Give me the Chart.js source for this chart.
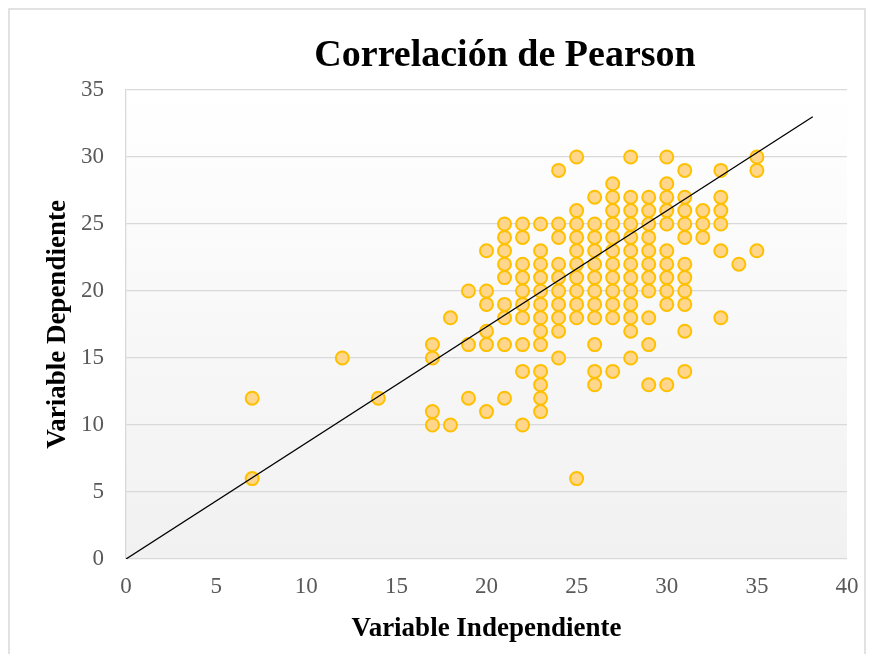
<!DOCTYPE html>
<html>
<head>
<meta charset="utf-8">
<script src="https://cdn.jsdelivr.net/npm/chart.js@4/dist/chart.umd.min.js"></script>
<style>
	html, body { margin: 0; padding: 0; background: #ffffff; }
	canvas { display: block; }
</style>
</head>
<body>
<canvas id="Pearson_Plot" width="869" height="654"></canvas>
<script>

// x value of each column of points, and the y values found in that column
const col_x = [7, 12, 14, 17, 18, 19, 20, 21, 22, 23, 24, 25, 26, 27, 28, 29, 30, 31, 32, 33, 34, 35];
const col_y = [
	[12, 6],
	[15],
	[12],
	[16, 15, 11, 10],
	[18, 10],
	[20, 16, 12],
	[23, 20, 19, 17, 16, 11],
	[25, 24, 23, 22, 21, 19, 18, 16, 12],
	[25, 24, 22, 21, 20, 19, 18, 16, 14, 10],
	[25, 23, 22, 21, 20, 19, 18, 17, 16, 14, 13, 12, 11],
	[29, 25, 24, 22, 21, 20, 19, 18, 17, 15],
	[30, 26, 25, 24, 23, 22, 21, 20, 19, 18, 6],
	[27, 25, 24, 23, 22, 21, 20, 19, 18, 16, 14, 13],
	[28, 27, 26, 25, 24, 23, 22, 21, 20, 19, 18, 14],
	[30, 27, 26, 25, 24, 23, 22, 21, 20, 19, 18, 17, 15],
	[27, 26, 25, 24, 23, 22, 21, 20, 18, 16, 13],
	[30, 28, 27, 26, 25, 23, 22, 21, 20, 19, 13],
	[29, 27, 26, 25, 24, 22, 21, 20, 19, 17, 14],
	[26, 25, 24],
	[29, 27, 26, 25, 23, 18],
	[22],
	[30, 29, 23]
];

// trend line end points
const trend_x = [0, 38.1];
const trend_y = [0, 33];

const chart_title = 'Correlación de Pearson';
const x_title = 'Variable Independiente';
const y_title = 'Variable Dependiente';

var scatter_points = [];
for (let i = 0; i < col_x.length; i++) {
	for (const y of col_y[i]) scatter_points.push({ x: col_x[i], y: y });
}
var trend_points = trend_x.map((x, i) => ({ x: x, y: trend_y[i] }));

Chart.defaults.font.family = "'Liberation Serif', 'Times New Roman', serif";

// plot area gradient, outer frame and the title
const frame_plugin = {
	id: 'frame',
	beforeDraw(chart) {
		const ctx = chart.ctx;
		const a = chart.chartArea;
		ctx.save();
		const grad = ctx.createLinearGradient(0, a.top, 0, a.bottom);
		grad.addColorStop(0, '#ffffff');
		grad.addColorStop(1, '#f1f1f1');
		ctx.fillStyle = grad;
		ctx.fillRect(a.left, a.top, a.right - a.left, a.bottom - a.top);
		ctx.strokeStyle = '#d9d9d9';
		ctx.lineWidth = 1.5;
		ctx.strokeRect(9, 9, 856, 700);
		ctx.restore();
	},
	afterDraw(chart) {
		const ctx = chart.ctx;
		ctx.save();
		ctx.font = "bold 38px 'Liberation Serif', serif";
		ctx.fillStyle = '#000000';
		ctx.textAlign = 'center';
		ctx.textBaseline = 'middle';
		ctx.fillText(chart_title, 505, 56);
		ctx.restore();
	}
};

const pearson_plot = document.getElementById("Pearson_Plot").getContext("2d");

var Pearson_Plot_Obj = new Chart(pearson_plot, {
	type: "scatter",
	data: {
		datasets: [
			{
				// trend line, on top of the points
				data: trend_points,
				showLine: true,
				borderColor: "#000000",
				borderWidth: 1.3,
				pointRadius: 0,
				order: 0,
			},
			{
				// observations
				data: scatter_points,
				backgroundColor: "#ffd68c",
				borderColor: "#ffc000",
				borderWidth: 2,
				pointRadius: 6.5,
				order: 1,
			}
		]
	},
	options: {
		responsive: false,
		animation: false,
		layout: {
			padding: { top: 90, right: 22, left: 0, bottom: 0 }
		},
		plugins: {
			legend: { display: false },
			tooltip: { enabled: false },
		},
		scales: {
			x: {
				type: 'linear',
				min: 0,
				max: 40,
				afterFit(scale) { scale.height = 95; },
				grid: { display: false, drawTicks: true, tickLength: 11 },  // tick length only spaces the labels
				border: { display: false },
				ticks: {
					stepSize: 5,
					padding: 3,
					color: '#595959',
					font: { size: 23 }
				},
				title: {
					display: true,
					text: x_title,
					color: '#000000',
					font: { size: 27, weight: 'bold' },
					padding: { top: 0, bottom: 9 }
				}
			},
			y: {
				min: 0,
				max: 35,
				afterFit(scale) { scale.width = 126; },
				grid: { color: '#d9d9d9', lineWidth: 1.3, drawTicks: false },
				border: { display: true, color: '#d9d9d9', width: 1.3 },
				ticks: {
					stepSize: 5,
					padding: 22,
					color: '#595959',
					font: { size: 23 }
				},
				title: {
					display: true,
					text: y_title,
					color: '#000000',
					font: { size: 27, weight: 'bold' },
					padding: { top: 42, bottom: 0 }
				}
			}
		},
		events: [],
	},
	plugins: [frame_plugin]
});

</script>
</body>
</html>
